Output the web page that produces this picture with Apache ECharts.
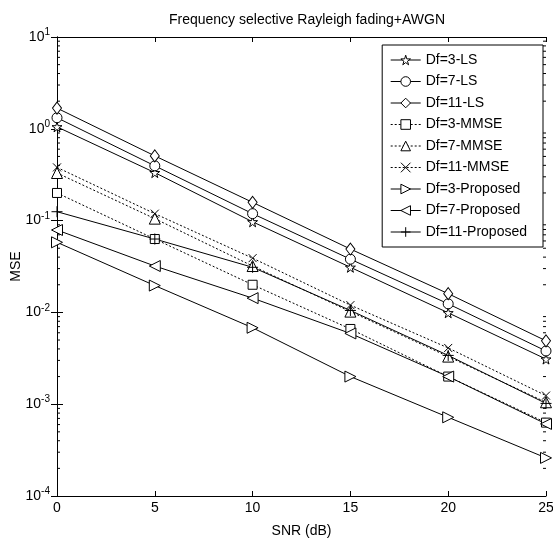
<!DOCTYPE html>
<html>
<head>
<meta charset="utf-8">
<script src="https://cdn.jsdelivr.net/npm/echarts@6/dist/echarts.min.js"></script>
<style>
  html, body { margin: 0; padding: 0; background: #fff; }
  #chart { width: 553px; height: 544px; }
</style>
</head>
<body>
<div id="chart"></div>
<script>
// SNR points (dB)
const snr = [0, 5, 10, 15, 20, 25]

// MSE
const ls3 = [1.05, 0.333, 0.097, 0.031, 0.0099, 0.0031]
const ls7 = [1.32, 0.395, 0.119, 0.038, 0.0124, 0.0038]
const ls11 = [1.68, 0.507, 0.158, 0.049, 0.016, 0.0049]
const mmse3 = [0.20, 0.063, 0.020, 0.0066, 0.0020, 0.00063]
const mmse7 = [0.33, 0.105, 0.032, 0.0102, 0.0033, 0.00105]
const mmse11 = [0.38, 0.119, 0.039, 0.012, 0.0041, 0.00124]
const prop3 = [0.058, 0.0196, 0.0068, 0.0020, 0.00072, 0.00026]
const prop7 = [0.079, 0.032, 0.0143, 0.0059, 0.0020, 0.00061]
const prop11 = [0.125, 0.063, 0.031, 0.0105, 0.0034, 0.00102]

const decades = [-4, -3, -2, -1, 0]
const minorSteps = [2, 3, 4, 5, 6, 7, 8, 9]

const FONT = 'Liberation Sans, Arial, sans-serif'
const STAR = 'path://M50,0L61,35L98,35L68,57L79,91L50,70L21,91L32,57L2,35L39,35Z'
const CROSS = 'path://M0,0L10,10M10,0L0,10'
const PLUS = 'path://M5,0L5,10M0,5L10,5'

function line(name, values, symbol, opts) {
  opts = opts || {}
  return {
    name: name,
    type: 'line',
    data: snr.map((x, i) => [x, values[i]]),
    symbol: symbol,
    symbolSize: opts.size || 10,
    symbolRotate: opts.rotate || 0,
    color: '#000',
    itemStyle: { color: '#fff', borderColor: '#000', borderWidth: 1 },
    lineStyle: { color: '#000', width: 1, type: opts.dotted ? [2, 2] : 'solid' },
    emphasis: { disabled: true },
    animation: false
  }
}

const minorTicks = []
decades.forEach(d => minorSteps.forEach(k => minorTicks.push([k * Math.pow(10, d)])))

const chart = echarts.init(document.getElementById('chart'))

chart.setOption({
  backgroundColor: '#fff',
  textStyle: { fontFamily: FONT, color: '#000' },
  title: {
    text: 'Frequency selective Rayleigh fading+AWGN',
    left: 302,
    textAlign: 'center',
    top: 8,
    textStyle: { fontSize: 14, fontWeight: 'normal', color: '#000', fontFamily: FONT }
  },
  grid: { left: 57, right: 7, top: 37, bottom: 48, containLabel: false, outerBoundsMode: 'none' },
  legend: {
    orient: 'vertical',
    right: 10,
    top: 45,
    padding: [8, 16, 8, 8],
    itemGap: 7.5,
    itemWidth: 30,
    itemHeight: 12,
    borderColor: '#000',
    borderWidth: 1,
    backgroundColor: '#fff',
    itemStyle: { color: '#fff', borderColor: '#000', borderWidth: 1 },
    lineStyle: { color: '#000', width: 1 },
    textStyle: { fontSize: 14, color: '#000', fontFamily: FONT },
    data: ['Df=3-LS', 'Df=7-LS', 'Df=11-LS', 'Df=3-MMSE', 'Df=7-MMSE', 'Df=11-MMSE',
      'Df=3-Proposed', 'Df=7-Proposed', 'Df=11-Proposed']
  },
  xAxis: [{
    type: 'value',
    min: 0,
    max: 25,
    interval: 5,
    name: 'SNR (dB)',
    nameLocation: 'middle',
    nameGap: 28,
    nameMoveOverlap: false,
    nameTextStyle: { fontSize: 14, color: '#000' },
    axisLine: { lineStyle: { color: '#000' } },
    axisTick: { inside: true, length: 5, lineStyle: { color: '#000' } },
    axisLabel: { fontSize: 14, color: '#000', margin: 5 },
    splitLine: { show: false }
  }, {
    type: 'value',
    position: 'top',
    min: 0,
    max: 25,
    interval: 5,
    axisLine: { lineStyle: { color: '#000' } },
    axisTick: { inside: true, length: 5, lineStyle: { color: '#000' } },
    axisLabel: { show: false },
    splitLine: { show: false }
  }],
  yAxis: [{
    type: 'log',
    logBase: 10,
    min: 1e-4,
    max: 10,
    name: 'MSE',
    nameLocation: 'middle',
    nameGap: 34,
    nameMoveOverlap: false,
    nameTextStyle: { fontSize: 14, color: '#000' },
    axisLine: { lineStyle: { color: '#000' } },
    axisTick: { inside: true, length: 6, lineStyle: { color: '#000' } },
    axisLabel: {
      margin: 7,
      formatter: v => '{b|10}{s|' + Math.round(Math.log10(v)) + '}',
      rich: {
        b: { fontSize: 14, color: '#000', fontFamily: FONT },
        s: { fontSize: 10, color: '#000', fontFamily: FONT, verticalAlign: 'top', padding: [0, 0, 9, 0] }
      }
    },
    splitLine: { show: false }
  }, {
    type: 'log',
    logBase: 10,
    min: 1e-4,
    max: 10,
    position: 'right',
    axisLine: { lineStyle: { color: '#000' } },
    axisTick: { inside: true, length: 6, lineStyle: { color: '#000' } },
    axisLabel: { show: false },
    splitLine: { show: false }
  }],
  series: [
    line('Df=3-LS', ls3, STAR, { size: 10 }),
    line('Df=7-LS', ls7, 'circle', { size: 10 }),
    line('Df=11-LS', ls11, 'diamond', { size: [9, 12] }),
    line('Df=3-MMSE', mmse3, 'rect', { size: 9, dotted: true }),
    line('Df=7-MMSE', mmse7, 'triangle', { size: 11, dotted: true }),
    line('Df=11-MMSE', mmse11, CROSS, { size: 8, dotted: true }),
    line('Df=3-Proposed', prop3, 'triangle', { size: 11, rotate: -90 }),
    line('Df=7-Proposed', prop7, 'triangle', { size: 11, rotate: 90 }),
    line('Df=11-Proposed', prop11, PLUS, { size: 11 }),
    {
      type: 'custom',
      name: 'minor',
      silent: true,
      animation: false,
      data: minorTicks,
      encode: { y: 0 },
      renderItem: (params, api) => {
        const v = api.value(0)
        const a = api.coord([0, v])
        const b = api.coord([25, v])
        return {
          type: 'group',
          children: [
            { type: 'line', shape: { x1: a[0], y1: a[1], x2: a[0] + 3, y2: a[1] }, style: { stroke: '#000', lineWidth: 1 } },
            { type: 'line', shape: { x1: b[0], y1: b[1], x2: b[0] - 3, y2: b[1] }, style: { stroke: '#000', lineWidth: 1 } }
          ]
        }
      }
    }
  ]
})
</script>
</body>
</html>
